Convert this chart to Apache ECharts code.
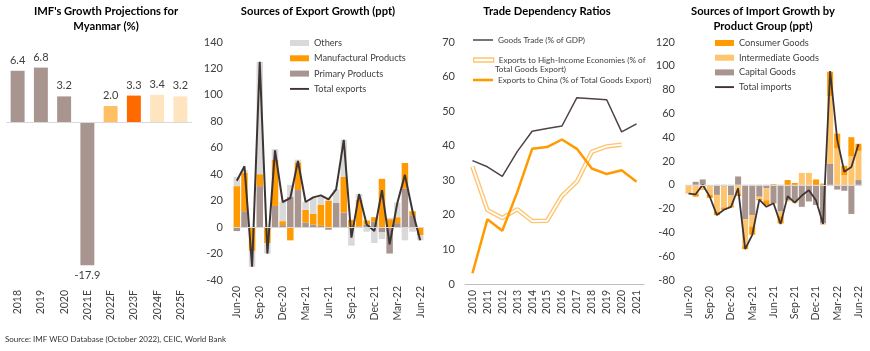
<!DOCTYPE html>
<html>
<head>
<meta charset="utf-8">
<script src="https://cdn.jsdelivr.net/npm/echarts@6/dist/echarts.min.js"></script>
<style>
  html, body { margin: 0; padding: 0; background: #fff; }
  #chart { width: 870px; height: 351px; }
</style>
</head>
<body>
<div id="chart"></div>
<script>
// IMF growth projections
const imfYears = ['2018', '2019', '2020', '2021E', '2022F', '2023F', '2024F', '2025F'];
const imfGrowth = [6.4, 6.8, 3.2, -17.9, 2.0, 3.3, 3.4, 3.2];
const imfColors = ['#A8958F', '#A8958F', '#A8958F', '#A8958F', '#FFC064', '#FF6A00', '#FFE4C0', '#FFE4C0'];

// monthly categories (export and import panels)
const months = ['Jun-20', 'Jul-20', 'Aug-20', 'Sep-20', 'Oct-20', 'Nov-20', 'Dec-20', 'Jan-21', 'Feb-21',
  'Mar-21', 'Apr-21', 'May-21', 'Jun-21', 'Jul-21', 'Aug-21', 'Sep-21', 'Oct-21', 'Nov-21', 'Dec-21',
  'Jan-22', 'Feb-22', 'Mar-22', 'Apr-22', 'May-22', 'Jun-22'];

// sources of export growth (ppt)
const expPrimary = [-3, 12, 0, 31, 0, 16, 1.5, 23, 28, 3.5, 2, 1, -2, 18.5, 11, 0, 0.5, 2, 4, -4, -20, 3, 29, 9, 0];
const expManuf = [31, 29, -18, 9, -12, 35, 3, -10, 21, 9.5, 8, 16, 20, 0, 27, 5.5, 20, 3, 3.5, 36.5, 6, 4.5, 19.5, 3, -6];
const expOthers = [7, 2, -12, 85, -8, 8, 14.5, 9, 2, 6, 12, 6, 1, 10, 28, -14, 4.5, -3.5, -12, -5, 1, 11, -10, -3.5, -4];
const expTotal = [35, 46, -30, 125, -20, 58, 19, 22, 50, 19, 22.5, 24, 21, 28.5, 66, -8, 25, 2, -3, 28, -13, 18, 39.5, 12, -10];

// trade dependency ratios
const tradeYears = ['2010', '2011', '2012', '2013', '2014', '2015', '2016', '2017', '2018', '2019', '2020', '2021'];
const goodsTrade = [35.7, 33.9, 31.1, 38.3, 44.2, 45.0, 45.7, 53.9, 53.6, 53.3, 44.0, 46.3];
const exportsHighIncome = [33.9, 21.4, 19.1, 21.6, 18.2, 18.3, 25.5, 29.6, 38.2, 39.8, 40.3, null];
const exportsChina = [3.1, 18.7, 15.4, 26.5, 39.1, 39.6, 41.8, 39.1, 33.4, 31.8, 32.9, 29.6];

// sources of import growth by product group (ppt)
const impCapital = [0, 2.5, 4.5, 0, -8.5, -1.5, -9, 7, -29, -25.5, -10, -3, -15.5, -22.5, -13, -14, -18.5, -14, -17, -32.5, 17.5, -4, -5, -24.5, 4];
const impIntermediate = [-7.5, -7.5, -4.5, -8.5, -14, -17.5, -9, -7.5, -22, -9.5, -2, -10, -0.5, -4, -1, -1.5, 10, 10, 0, -1, 57, 30.5, 8, 24, 24.5];
const impConsumer = [0, -2.5, 0, -2.5, -3, -2, -1, -2, -3, -7, -1, -4, 0.5, -6, 4, 1.5, 0, 0, 4.5, 1, 20.5, 12.5, 8, 16, 6];
const impTotal = [-7.5, -8, 0, -10, -25.5, -21, -18.5, -3, -54, -42, -12.5, -18.5, -15.5, -33, -9.5, -15, -9, -4.5, -13, -33, 95.5, 38, 11, 15, 34];

const FONT = 'Lato';
const TXT = '#404040';
const DARK = '#3F3434';
// thin bar-shaped icons for the line entries of the legends
const LINE_ICON = 'path://M0,0L20,0L20,2L0,2Z';
const THICK_LINE_ICON = 'path://M0,0L20,0L20,2.6L0,2.6Z';
const THIN_LINE_ICON = 'path://M0,0L20,0L20,1.5L0,1.5Z';

const chart = echarts.init(document.getElementById('chart'));

function valAxis(grid, min, max, interval, show) {
  return {
    type: 'value', gridIndex: grid, min: min, max: max, interval: interval,
    axisLine: { show: false }, axisTick: { show: false }, splitLine: { show: false },
    axisLabel: { show: show, color: TXT, fontSize: 11, fontFamily: FONT, margin: 10 }
  };
}

function catAxis(grid, data, interval, margin, line) {
  return {
    type: 'category', gridIndex: grid, data: data,
    axisLine: { show: line, onZero: false, lineStyle: { color: '#BFBFBF' } },
    axisTick: { show: false },
    axisLabel: { rotate: 90, interval: interval, color: TXT, fontSize: 10.5, fontFamily: FONT, margin: margin }
  };
}

const zeroLine = {
  silent: true, symbol: 'none', label: { show: false },
  lineStyle: { color: '#D9D9D9', type: 'solid', width: 1 },
  data: [{ yAxis: 0 }]
};

const legendText = { color: TXT, fontSize: 9.2, fontFamily: FONT, lineHeight: 11 };
const smallLegendText = { color: TXT, fontSize: 8.2, fontFamily: FONT, lineHeight: 11 };

const option = {
  animation: false,
  textStyle: { fontFamily: FONT },
  grid: [
    { left: 6, right: 678, top: 42, bottom: 69 },
    { left: 233, right: 446, top: 42, bottom: 71 },
    { left: 465, right: 226, top: 42, bottom: 67 },
    { left: 685, right: 8, top: 42, bottom: 71 }
  ],
  xAxis: [
    catAxis(0, imfYears, 0, 8, false),
    catAxis(1, months, 2, 6, false),
    catAxis(2, tradeYears, 0, 6, true),
    catAxis(3, months, 2, 6, false)
  ],
  yAxis: [
    valAxis(0, -20, 10, 10, false),
    valAxis(1, -40, 140, 20, true),
    valAxis(2, 0, 70, 10, true),
    valAxis(3, -80, 120, 20, true)
  ],
  legend: [
    {
      left: 290, top: 37.5, padding: 0, orient: 'vertical', itemWidth: 19, itemHeight: 6, itemGap: 4.3,
      textStyle: legendText,
      data: [
        { name: 'Others', icon: 'rect' },
        { name: 'Manufactural Products', icon: 'rect' },
        { name: 'Primary Products', icon: 'rect' },
        { name: 'Total exports', icon: LINE_ICON }
      ]
    },
    {
      left: 473, top: 34.5, padding: 0, itemWidth: 20, itemHeight: 6, textStyle: smallLegendText,
      data: [{ name: 'Goods Trade (% of GDP)', icon: THIN_LINE_ICON }]
    },
    {
      left: 473, top: 54.5, padding: 0, itemWidth: 20, itemHeight: 4, textStyle: smallLegendText,
      formatter: function () { return 'Exports to High-Income Economies (% of'; },
      data: [{ name: 'Exports to High-Income Economies (% of Total Goods Export)', icon: 'rect',
        itemStyle: { color: '#fff', borderColor: '#FFC46E', borderWidth: 1.3 } }]
    },
    {
      left: 473, top: 74.5, padding: 0, itemWidth: 20, itemHeight: 6, textStyle: smallLegendText,
      data: [{ name: 'Exports to China (% of Total Goods Export)', icon: THICK_LINE_ICON }]
    },
    {
      left: 715, top: 37.5, padding: 0, orient: 'vertical', itemWidth: 19, itemHeight: 6, itemGap: 3.7,
      textStyle: legendText,
      data: [
        { name: 'Consumer Goods', icon: 'rect' },
        { name: 'Intermediate Goods', icon: 'rect' },
        { name: 'Capital Goods', icon: 'rect' },
        { name: 'Total imports', icon: LINE_ICON }
      ]
    }
  ],
  graphic: [
    { type: 'text', x: 106, y: 4, style: { text: "IMF's Growth Projections for\nMyanmar (%)", align: 'center',
      font: 'bold 11.2px ' + FONT, fill: '#000', lineHeight: 15 } },
    { type: 'text', x: 318, y: 4, style: { text: 'Sources of Export Growth (ppt)', align: 'center',
      font: 'bold 11.2px ' + FONT, fill: '#000', lineHeight: 15 } },
    { type: 'text', x: 547, y: 4, style: { text: 'Trade Dependency Ratios', align: 'center',
      font: 'bold 11.2px ' + FONT, fill: '#000', lineHeight: 15 } },
    { type: 'text', x: 763, y: 4, style: { text: 'Sources of Import Growth by\nProduct Group (ppt)', align: 'center',
      font: 'bold 11.2px ' + FONT, fill: '#000', lineHeight: 15 } },
    { type: 'text', x: 495, y: 65.5, style: { text: 'Total Goods Export)', font: '8.2px ' + FONT, fill: TXT } },
    { type: 'text', x: 5, y: 335, style: { text: 'Source: IMF WEO Database (October 2022), CEIC, World Bank',
      font: '8px ' + FONT, fill: '#333' } }
  ],
  series: [
    {
      type: 'bar', xAxisIndex: 0, yAxisIndex: 0, barCategoryGap: '40%',
      data: imfGrowth.map(function (v, i) {
        return { value: v, itemStyle: { color: imfColors[i] }, label: { position: v < 0 ? 'bottom' : 'top' } };
      }),
      label: { show: true, color: TXT, fontSize: 11, fontFamily: FONT, distance: 5,
        formatter: function (p) { return p.value.toFixed(1); } },
      markLine: zeroLine
    },
    { name: 'Primary Products', type: 'bar', xAxisIndex: 1, yAxisIndex: 1, stack: 'exp', barCategoryGap: '15%',
      itemStyle: { color: '#A8958F' }, data: expPrimary, markLine: zeroLine },
    { name: 'Manufactural Products', type: 'bar', xAxisIndex: 1, yAxisIndex: 1, stack: 'exp',
      itemStyle: { color: '#FF9A00' }, data: expManuf },
    { name: 'Others', type: 'bar', xAxisIndex: 1, yAxisIndex: 1, stack: 'exp',
      itemStyle: { color: '#D9D9D9' }, data: expOthers },
    { name: 'Total exports', type: 'line', xAxisIndex: 1, yAxisIndex: 1, symbol: 'none',
      lineStyle: { color: DARK, width: 2 }, itemStyle: { color: DARK }, data: expTotal },

    { name: 'Goods Trade (% of GDP)', type: 'line', xAxisIndex: 2, yAxisIndex: 2, symbol: 'none',
      lineStyle: { color: '#4F4343', width: 1.5 }, itemStyle: { color: '#4F4343' }, data: goodsTrade },
    { name: 'Exports to High-Income Economies (% of Total Goods Export)', type: 'line', xAxisIndex: 2, yAxisIndex: 2,
      symbol: 'none', lineStyle: { color: '#FFC46E', width: 4.5 }, itemStyle: { color: '#FFC46E' }, data: exportsHighIncome },
    { name: 'hi-inner', type: 'line', xAxisIndex: 2, yAxisIndex: 2, symbol: 'none',
      lineStyle: { color: '#fff', width: 1.8 }, data: exportsHighIncome },
    { name: 'Exports to China (% of Total Goods Export)', type: 'line', xAxisIndex: 2, yAxisIndex: 2, symbol: 'none',
      lineStyle: { color: '#FF9A00', width: 2.5 }, itemStyle: { color: '#FF9A00' }, data: exportsChina },

    { name: 'Capital Goods', type: 'bar', xAxisIndex: 3, yAxisIndex: 3, stack: 'imp', barCategoryGap: '15%',
      itemStyle: { color: '#A8958F' }, data: impCapital, markLine: zeroLine },
    { name: 'Intermediate Goods', type: 'bar', xAxisIndex: 3, yAxisIndex: 3, stack: 'imp',
      itemStyle: { color: '#FFC46E' }, data: impIntermediate },
    { name: 'Consumer Goods', type: 'bar', xAxisIndex: 3, yAxisIndex: 3, stack: 'imp',
      itemStyle: { color: '#FF9A00' }, data: impConsumer },
    { name: 'Total imports', type: 'line', xAxisIndex: 3, yAxisIndex: 3, symbol: 'none',
      lineStyle: { color: DARK, width: 1.8 }, itemStyle: { color: DARK }, data: impTotal }
  ]
};

chart.setOption(option);
</script>
</body>
</html>
